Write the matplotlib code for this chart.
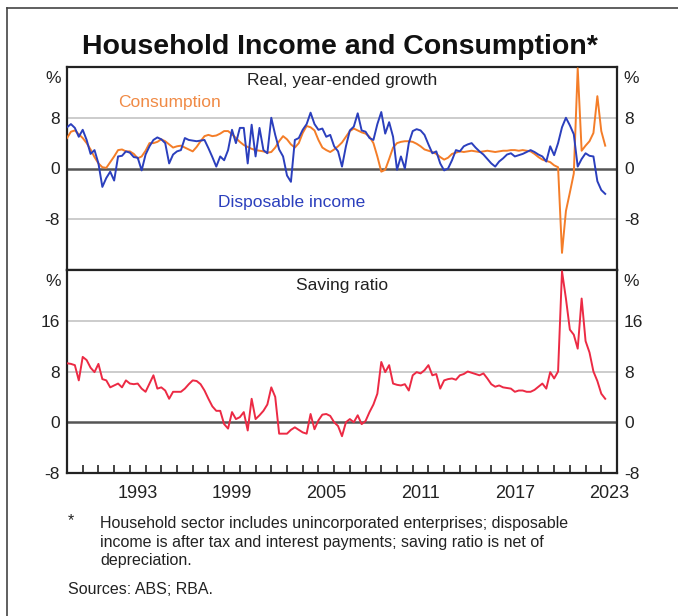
import numpy as np
import pandas as pd
import matplotlib
matplotlib.use("Agg")
import matplotlib.pyplot as plt
from matplotlib.lines import Line2D

plt.rcParams['font.family'] = ['Liberation Sans', 'DejaVu Sans']
plt.rcParams['axes.unicode_minus'] = False

# quarterly data, Dec 1988 to Mar 2023 (real, year-ended growth, %)
quarters = pd.date_range('1988-12-31', periods=138, freq='QE')

income = [6.5, 7.0, 6.4, 5.0, 6.1, 4.5, 2.3, 2.9, 0.8, -2.9,
          -1.5, -0.5, -1.9, 1.9, 2.0, 2.7, 2.5, 1.8, 1.7, -0.3,
          2.2, 3.5, 4.5, 4.9, 4.6, 4.0, 0.8, 2.2, 2.7, 2.9,
          4.8, 4.5, 4.4, 4.3, 4.4, 4.5, 3.2, 1.8, 0.3, 1.9,
          1.3, 2.9, 6.1, 4.0, 6.4, 6.4, 0.8, 6.9, 1.9, 6.4,
          2.9, 2.4, 8.0, 5.3, 3.0, 1.9, -1.1, -2.1, 4.5, 4.8,
          6.1, 7.0, 8.8, 7.0, 6.1, 6.3, 5.0, 5.3, 3.5, 2.7,
          0.3, 3.5, 6.0, 6.6, 8.7, 6.0, 5.8, 4.8, 4.5, 7.0,
          8.9, 5.5, 7.3, 5.0, -0.2, 1.9, 0.0, 4.0, 5.9, 6.2,
          6.0, 5.3, 3.8, 2.4, 2.7, 0.8, -0.3, 0.0, 1.3, 2.9,
          2.7, 3.5, 3.8, 4.0, 3.3, 2.7, 2.2, 1.5, 0.8, 0.3,
          1.1, 1.6, 2.2, 2.4, 1.9, 2.1, 2.3, 2.6, 2.9, 2.6,
          2.2, 1.9, 1.1, 3.5, 2.1, 4.0, 6.5, 8.0, 6.8, 5.4,
          0.3, 1.5, 2.4, 2.0, 1.9, -2.0, -3.4, -4.0]

consumption = [4.8, 5.8, 6.0, 5.4, 4.8, 4.0, 3.0, 1.8, 0.8, 0.2,
               0.1, 1.0, 1.9, 2.9, 3.0, 2.7, 2.7, 2.3, 1.6, 1.9,
               2.8, 4.0, 4.0, 4.2, 4.6, 4.3, 3.8, 3.3, 3.5, 3.6,
               3.3, 3.0, 2.7, 3.4, 4.3, 5.1, 5.3, 5.1, 5.2, 5.5,
               5.9, 5.9, 5.4, 4.8, 4.2, 3.7, 3.4, 3.1, 2.9, 2.8,
               2.7, 2.5, 2.6, 3.3, 4.3, 5.1, 4.6, 3.8, 3.3, 4.0,
               5.6, 6.7, 6.5, 6.0, 4.5, 3.3, 2.9, 2.6, 3.0, 3.5,
               4.1, 5.0, 5.9, 6.3, 6.0, 5.7, 5.5, 5.0, 4.0, 1.9,
               -0.5, -0.2, 1.5, 3.3, 4.0, 4.2, 4.3, 4.3, 4.2, 3.9,
               3.5, 3.0, 2.8, 2.6, 2.3, 1.8, 1.4, 1.7, 2.3, 2.5,
               2.7, 2.6, 2.7, 2.8, 2.7, 2.6, 2.7, 2.8, 2.7, 2.6,
               2.7, 2.8, 2.8, 2.9, 2.9, 2.8, 2.9, 2.8, 2.7, 2.3,
               1.8, 1.4, 1.2, 1.0, 0.5, 0.2, -13.3, -6.7, -3.8, -0.8,
               15.8, 2.8, 3.6, 4.3, 5.6, 11.4, 5.9, 3.6]

saving = [9.3, 9.2, 9.0, 6.6, 10.3, 9.8, 8.6, 7.9, 9.2, 6.8,
          6.6, 5.5, 5.8, 6.1, 5.5, 6.6, 6.1, 6.0, 6.1, 5.3,
          4.8, 6.1, 7.4, 5.3, 5.5, 5.0, 3.7, 4.8, 4.8, 4.8,
          5.3, 6.0, 6.6, 6.5, 6.0, 5.0, 3.7, 2.5, 1.8, 1.8,
          -0.3, -1.0, 1.6, 0.5, 0.8, 1.6, -1.3, 3.7, 0.5, 1.1,
          1.8, 2.8, 5.5, 4.0, -1.8, -1.8, -1.8, -1.2, -0.8, -1.2,
          -1.6, -1.8, 1.3, -1.1, 0.3, 1.2, 1.3, 1.0, 0.0, -0.6,
          -2.2, 0.0, 0.5, 0.0, 1.1, -0.3, 0.2, 1.6, 2.8, 4.5,
          9.5, 7.9, 9.0, 6.1, 5.9, 5.8, 6.0, 5.0, 7.4, 7.9,
          7.7, 8.2, 9.0, 7.4, 7.6, 5.3, 6.6, 6.8, 6.9, 6.7,
          7.4, 7.6, 8.0, 7.8, 7.6, 7.4, 7.7, 6.9, 6.0, 5.6,
          5.8, 5.5, 5.4, 5.3, 4.8, 5.0, 5.0, 4.8, 4.8, 5.1,
          5.6, 6.1, 5.3, 7.9, 6.9, 8.0, 23.8, 19.5, 14.6, 13.8,
          11.6, 19.5, 12.8, 11.0, 8.0, 6.5, 4.5, 3.7]

year_labels = [1993, 1999, 2005, 2011, 2017, 2023]

BLUE = '#2b3fbd'
ORANGE = '#f47d28'
RED = '#ec2a44'
INK = '#222222'

# decimal-year x positions (quarter end)
x = np.array(quarters.year + quarters.month / 12.0)

W, H = 678, 616
fig = plt.figure(figsize=(W / 100, H / 100), dpi=100)


def fx(px):
    return px / W


def fy(py):
    return 1 - py / H


L, R, T, M, B = 67, 617, 67, 270, 473
ax1 = fig.add_axes([fx(L), fy(M), (R - L) / W, (M - T) / H])
ax2 = fig.add_axes([fx(L), fy(B), (R - L) / W, (B - M) / H])

for ax in (ax1, ax2):
    ax.set_xlim(1989, 2024)
    for s in ax.spines.values():
        s.set_linewidth(1.6)
        s.set_color(INK)
    ax.tick_params(axis='y', length=0, labelleft=True, labelright=True,
                   labelsize=12.5, pad=5, colors=INK)

# top panel
ax1.set_ylim(-16, 16)
for g in (-8, 8):
    ax1.axhline(g, color='#c4c4c4', lw=1.2, zorder=0)
ax1.axhline(0, color='#555555', lw=1.8, zorder=1)
ax1.plot(x, consumption, color=ORANGE, lw=1.4, zorder=3)
ax1.plot(x, income, color=BLUE, lw=1.4, zorder=4)
ax1.set_yticks([-8, 0, 8])
ax1.set_xticks([])
ax1.text(0.5, 0.935, 'Real, year-ended growth', transform=ax1.transAxes,
         ha='center', va='center', fontsize=12.5, color=INK)
ax1.text((118 - L) / (R - L), (M - 103) / (M - T), 'Consumption',
         transform=ax1.transAxes, ha='left', va='center', fontsize=12.5, color='#f08a45')
ax1.text((218 - L) / (R - L), (M - 203) / (M - T), 'Disposable income',
         transform=ax1.transAxes, ha='left', va='center', fontsize=12.5, color=BLUE)

# bottom panel
ax2.set_ylim(-8, 24)
for g in (8, 16):
    ax2.axhline(g, color='#c4c4c4', lw=1.2, zorder=0)
ax2.axhline(0, color='#555555', lw=1.8, zorder=1)
ax2.plot(x, saving, color=RED, lw=1.4, zorder=3)
ax2.set_yticks([-8, 0, 8, 16])
ax2.text(0.5, (B - 285) / (B - M), 'Saving ratio', transform=ax2.transAxes,
         ha='center', va='center', fontsize=12.5, color=INK)

ax2.set_xticks([y + 0.5 for y in year_labels])
ax2.set_xticklabels([str(y) for y in year_labels])
ax2.set_xticks(np.arange(1990, 2024), minor=True)
ax2.tick_params(axis='x', which='major', length=0, labelsize=13, pad=9, colors=INK)
ax2.tick_params(axis='x', which='minor', direction='in', length=6, width=1.2, color=INK)

# % unit labels at top of each panel
for ax in (ax1, ax2):
    ax.text(-0.012, 0.98, '%', transform=ax.transAxes, ha='right', va='top',
            fontsize=12.5, color=INK)
    ax.text(1.012, 0.98, '%', transform=ax.transAxes, ha='left', va='top',
            fontsize=12.5, color=INK)

fig.text(fx(340), fy(47), 'Household Income and Consumption*', ha='center', va='center',
         fontsize=20.5, fontweight='bold', color='#111111')

fig.text(fx(68), fy(521), '*', ha='left', va='center', fontsize=11.5, color=INK)
fig.text(fx(100), fy(516),
         'Household sector includes unincorporated enterprises; disposable\n'
         'income is after tax and interest payments; saving ratio is net of\n'
         'depreciation.',
         ha='left', va='top', fontsize=11.5, linespacing=1.3, color=INK)
fig.text(fx(68), fy(589), 'Sources: ABS; RBA.', ha='left', va='center',
         fontsize=11.5, color=INK)

# frame lines of the original image
fig.add_artist(Line2D([fx(7), fx(7)], [0, fy(8)], transform=fig.transFigure,
                      color='#444444', lw=1.2))
fig.add_artist(Line2D([fx(7), 1], [fy(8), fy(8)], transform=fig.transFigure,
                      color='#444444', lw=1.2))

fig.savefig('out.png', dpi=100)
